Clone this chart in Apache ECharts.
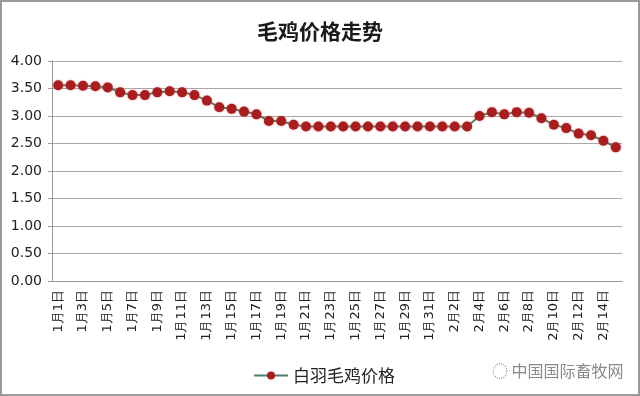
<!DOCTYPE html>
<html><head><meta charset="utf-8">
<script src="https://cdn.jsdelivr.net/npm/echarts@6/dist/echarts.min.js"></script>
<style>html,body{margin:0;padding:0;background:#fff}#c{width:640px;height:396px;box-sizing:border-box;border:2px solid #9a9a9a}</style>
</head><body><div id="c"></div>
<script>
const categories = [];
for (let d = 1; d <= 31; d++) categories.push('1月' + d + '日');
for (let d = 1; d <= 15; d++) categories.push('2月' + d + '日');
const seriesName = '白羽毛鸡价格';
const prices = [3.56,3.56,3.55,3.54,3.52,3.43,3.38,3.38,3.43,3.45,3.43,3.38,3.28,3.16,3.13,3.08,3.03,2.91,2.91,2.84,2.81,
  2.81,2.81,2.81,2.81,2.81,2.81,2.81,2.81,2.81,2.81,2.81,2.81,2.81,
  3.00,3.07,3.03,3.07,3.06,2.96,2.84,2.78,2.68,2.65,2.55,2.43];
const yTicks = [0,0.5,1,1.5,2,2.5,3,3.5,4];

const chart = echarts.init(document.getElementById('c'), null, {renderer:'canvas'});
chart.setOption({
  animation:false,
  backgroundColor:'#fff',
  title:{text:'毛鸡价格走势', left:'center', top:14,
    textStyle:{fontFamily:'Noto Sans CJK SC', fontSize:21, fontWeight:'bold', color:'#1a1a1a'}},
  grid:{left:50, right:16, top:59, bottom:113, containLabel:false},
  legend:{data:[seriesName], left:246, top:360, itemWidth:34, itemHeight:10, itemGap:8,
    textStyle:{fontFamily:'Noto Sans CJK SC', fontSize:17, color:'#222'}},
  xAxis:{type:'category', data:categories, boundaryGap:true,
    axisLine:{lineStyle:{color:'#999'}},
    axisTick:{interval:1, length:5, lineStyle:{color:'#999'}},
    axisLabel:{interval:1, rotate:90, fontFamily:'DejaVu Sans', fontSize:13, color:'#222', margin:9}},
  yAxis:{type:'value', min:yTicks[0], max:yTicks[yTicks.length-1], interval:0.5,
    axisLine:{show:true, lineStyle:{color:'#999'}},
    axisTick:{show:true, length:4, lineStyle:{color:'#999'}},
    splitLine:{lineStyle:{color:'#a8a8a8'}},
    axisLabel:{formatter:v=>v.toFixed(2), fontFamily:'DejaVu Sans', fontSize:14, color:'#222', margin:10}},
  series:[{name:seriesName, type:'line', data:prices, symbol:'circle', symbolSize:10,
    showSymbol:true, showAllSymbol:true,
    lineStyle:{color:'#4f7d68', width:2},
    itemStyle:{color:'#a91d1f', shadowBlur:2, shadowColor:'rgba(230,80,80,0.6)'}}],
  graphic:[{type:'text', left:490, top:361, style:{text:'◌ 中国国际畜牧网', fill:'#8a8a8a',
    font:'16px "Noto Sans CJK SC"'}}]
});
</script></body></html>
